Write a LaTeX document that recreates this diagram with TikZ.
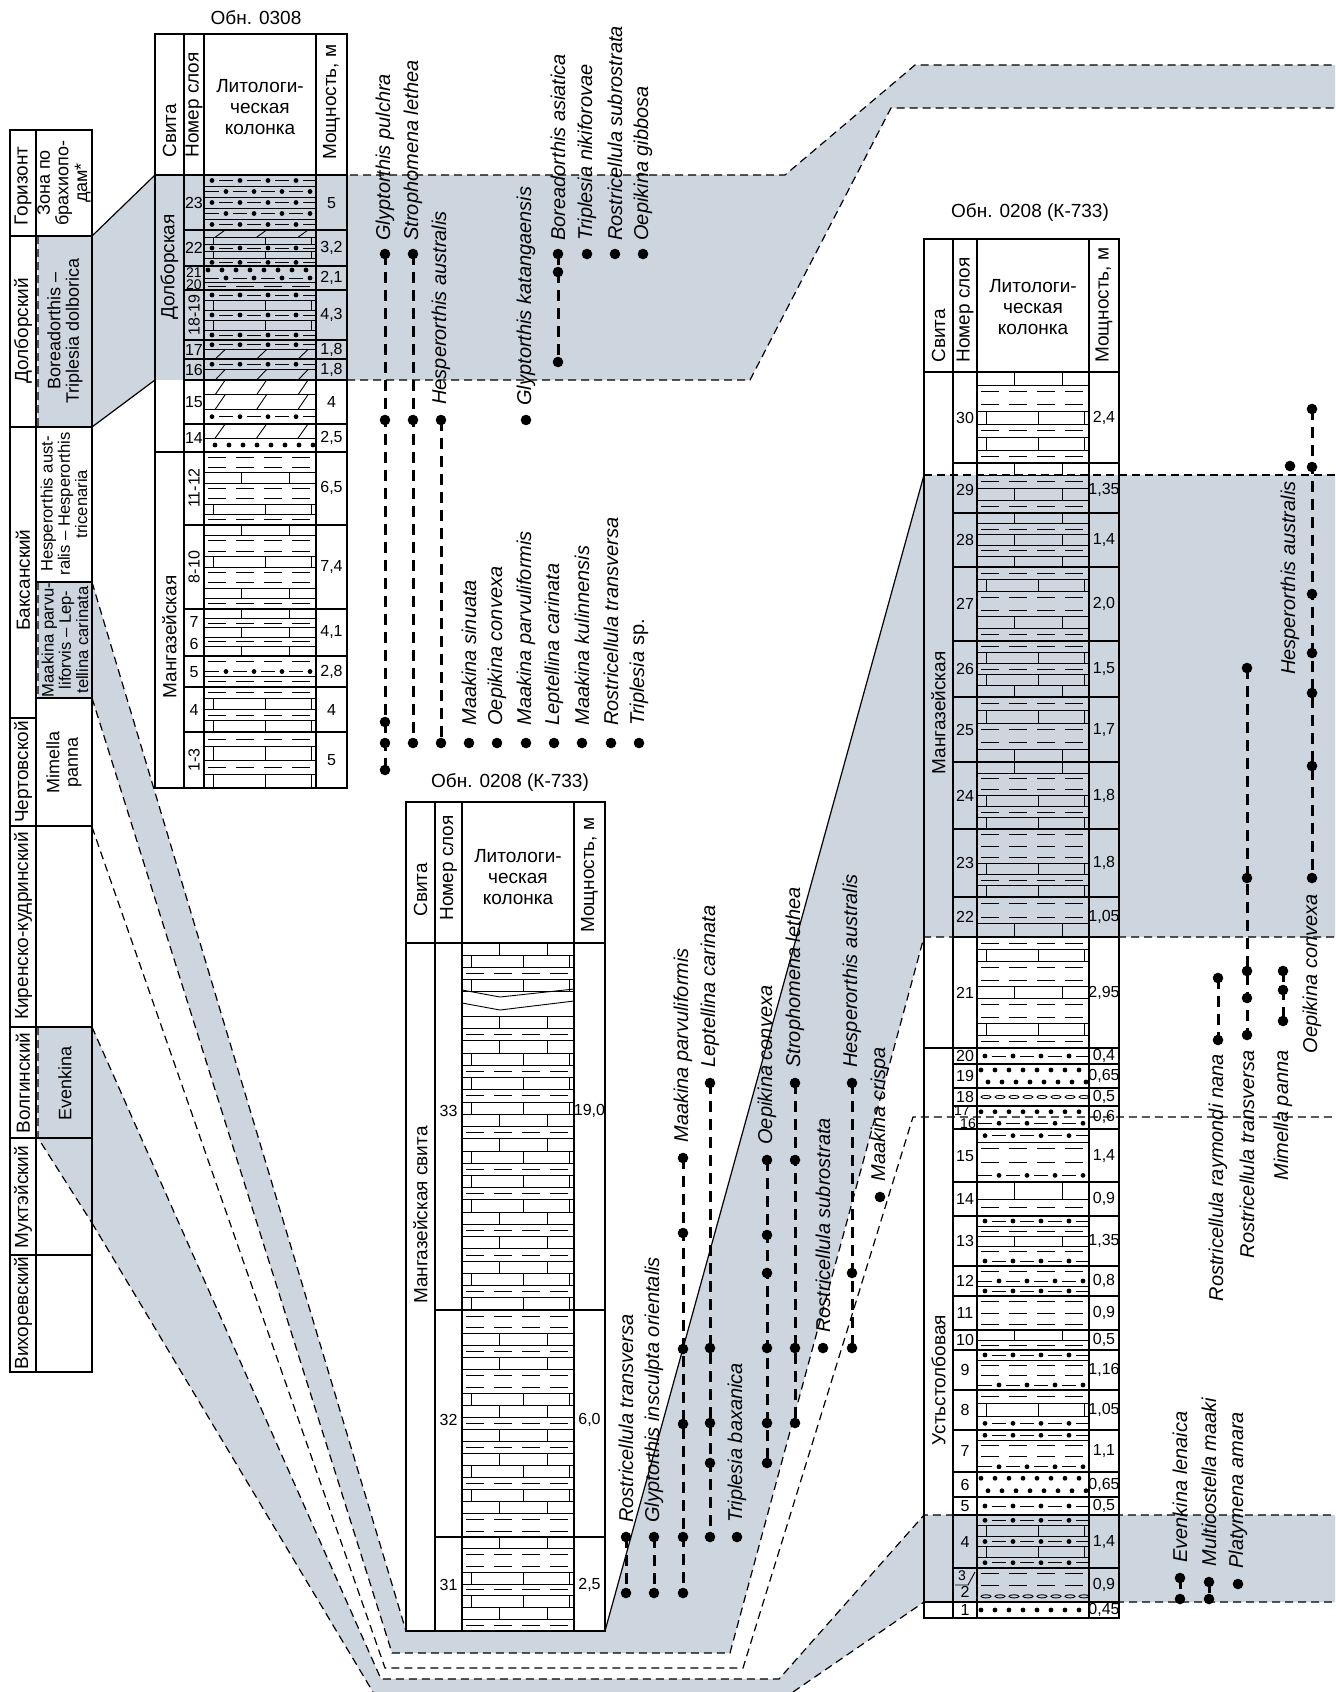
\documentclass[tikz,border=0pt]{standalone}
\usepackage{fontspec}
\setmainfont{Liberation Sans}
\definecolor{bandgray}{RGB}{205,213,223}

% lithology rows: 0 blank, 1 limestone, 2 clay, 3 silt, 4 sand, 5 dolomite, 6 lenses
\newcommand\lith[5]{%
  \begin{scope}
    \clip (#1,#3) rectangle (#2,#4);
    \foreach \lc [count=\i] in {#5} {\xdef\nrow{\i}}
    \pgfmathsetmacro\rh{(#4-#3)/\nrow}
    \pgfmathsetmacro\ww{#2-#1}
    \foreach \lc [count=\i] in {#5} {
      \pgfmathsetmacro\ya{#3+(\i-1)*\rh}
      \pgfmathsetmacro\yb{\ya+\rh}
      \pgfmathsetmacro\ym{\ya+\rh/2}
      \ifodd\i \def\sh{0}\else \def\sh{14}\fi
      \ifnum\lc=1
        \draw[litho] (#1,\ya) -- (#2,\ya) (#1,\yb) -- (#2,\yb);
        \ifodd\i
          \draw[litho] (#1+0.33*\ww,\ya) -- (#1+0.33*\ww,\yb)
                       (#1+0.76*\ww,\ya) -- (#1+0.76*\ww,\yb);
        \else
          \draw[litho] (#1+0.08*\ww,\ya) -- (#1+0.08*\ww,\yb)
                       (#1+0.55*\ww,\ya) -- (#1+0.55*\ww,\yb)
                       (#1+0.96*\ww,\ya) -- (#1+0.96*\ww,\yb);
        \fi
      \fi
      \ifnum\lc=2
        \draw[litho,dash pattern=on 9pt off 5pt,dash phase=\sh pt] (#1+4,\ym) -- (#2,\ym);
      \fi
      \ifnum\lc=3
        \draw[litho] (#1,\yb) -- (#2,\yb);
        \foreach \k in {-1,...,4} {
          \fill (#1+8+\k*28+\sh,\ym) circle (1.2pt);
          \draw[litho] (#1+15+\k*28+\sh,\ym) -- ++(14,0);
        }
      \fi
      \ifnum\lc=4
        \foreach \k in {0,...,8} {\fill (#1+4+\k*14+\sh/2,\ym) circle (1.2pt);}
      \fi
      \ifnum\lc=5
        \draw[litho] (#1,\yb) -- (#2,\yb);
        \foreach \f in {0.1,0.47,0.84} {\draw[litho] (#1+\f*\ww,\yb) -- ++(10,-\rh);}
      \fi
      \ifnum\lc=6
        \foreach \k in {0,...,7} {\draw[litho] (#1+9+\k*14,\ym) ellipse (2.5pt and 0.8pt);}
      \fi
    }
  \end{scope}%
}

% taxon: id, x, dot ys, label anchor, label y, name
\newcommand\taxon[6]{%
  \foreach \ty [count=\k] in {#3} {
    \node[taxdot] (#1-\k) at (#2,\ty) {};
    \xdef\ndot{\k}
  }
  \ifnum\ndot>1 \draw[taxrange] (#1-1.center) -- (#1-\ndot.center);\fi
  \node[taxlbl,anchor=#4] (#1-lbl) at (#2,#5) {#6};
}

\begin{document}
\begin{tikzpicture}[
        x=0.5pt, y=-0.5pt,
        frame/.style={line width=0.9pt},
        litho/.style={line width=0.45pt},
        bandedge/.style={line width=0.6pt, dash pattern=on 4pt off 2.5pt},
        taxrange/.style={line width=1.5pt, dash pattern=on 5.5pt off 3.5pt},
        taxdot/.style={circle, fill=black, inner sep=0pt, minimum size=5.3pt},
        taxlbl/.style={rotate=90, inner sep=0pt, font=\fontsize{10}{11}\selectfont\itshape},
        title/.style={font=\fontsize{9.5}{11}\selectfont, inner sep=0pt},
        hdr/.style={font=\fontsize{9.5}{10.5}\selectfont, align=center, inner sep=0pt},
        rhdr/.style={hdr, rotate=90, anchor=west},
        ltxt/.style={font=\fontsize{9.5}{10}\selectfont, rotate=90, align=center, inner sep=0pt},
        ztxt/.style={font=\fontsize{9}{9.3}\selectfont, rotate=90, align=center, inner sep=0pt},
        ztight/.style={font=\fontsize{8.3}{8.6}\selectfont, rotate=90, align=center, inner sep=0pt},
        num/.style={font=\fontsize{8}{8}\selectfont, inner sep=0pt},
        snum/.style={font=\fontsize{7}{7}\selectfont, inner sep=0pt}
    ]
    \useasboundingbox (0,0) rectangle (1335,1692);
    \fill[white] (0,0) rectangle (1335,1692);

    % correlation bands
    \fill[bandgray] (92,236) -- (155,175) -- (785,175) -- (915,65) -- (1335,65) -- (1335,108)
        -- (891,108) -- (750,380) -- (155,380) -- (92,427) -- cycle;
    \fill[bandgray] (92,582) -- (406,1631) -- (605,1631) -- (924,475) -- (1335,475) -- (1335,937)
        -- (924,937) -- (730,1653) -- (392,1653) -- (92,698) -- cycle;
    \fill[bandgray] (92,1027) -- (381,1679) -- (779,1679) -- (924,1515) -- (1335,1515) -- (1335,1602)
        -- (924,1602) -- (793,1692) -- (373,1692) -- (92,1223) -- cycle;

    % horizons and zones
    \fill[white] (10,130) rectangle (92,1372);
    \fill[bandgray] (38,236) rectangle (92,427) (38,582) rectangle (92,698) (38,1027) rectangle (92,1138);
    \fill[bandgray] (38,1138) -- (92,1138) -- (92,1223) -- cycle;
    \draw[bandedge] (38,236) -- (38,427) (38,582) -- (38,698) (38,1027) -- (38,1138) -- (92,1223);
    \draw[frame] (10,130) rectangle (92,1372) (36,130) -- (36,1372);
    \draw[frame] (10,236) -- (92,236) (10,427) -- (92,427) (36,582) -- (92,582) (36,698) -- (92,698)
        (10,718) -- (36,718) (10,826) -- (92,826) (10,1027) -- (92,1027) (10,1138) -- (92,1138)
        (10,1255) -- (92,1255);
    \node[ltxt] (hgor) at (23,186) {Горизонт};
    \node[ztxt] (hzon) at (64,183) {Зона по\\брахиопо-\\дам*};
    \node[ltxt] (hdol) at (23,331) {Долборский};
    \node[ztxt] (zbor) at (65,331) {Boreadorthis –\\Triplesia dolborica};
    \node[ltxt] (hbak) at (23,580) {Баксанский};
    \node[ztight] (zhes) at (64,504) {Hesperorthis aust-\\ralis – Hesperorthis\\tricenaria};
    \node[ztight] (zmaa) at (65,640) {Maakina parvu-\\liforvis – Lep-\\tellina carinata};
    \node[ltxt] (hche) at (23,772) {Чертовской};
    \node[ztxt] (zmim) at (64,762) {Mimella\\panna};
    \node[ltxt] (hkir) at (23,926) {Киренско-кудринский};
    \node[ltxt] (hvol) at (23,1083) {Волгинский};
    \node[ztxt] (zeve) at (65,1083) {Evenkina};
    \node[ltxt] (hmuk) at (23,1197) {Муктэйский};
    \node[ltxt] (hvih) at (23,1313) {Вихоревский};

    % section 0308
    \node[title] (t1) at (256,18) {Обн. 0308};
    \fill[white] (155,34) rectangle (347,788);
    \fill[bandgray] (155,175) rectangle (347,380);
    \lith{204}{316}{175}{230}{3,3,3,3,3}
    \lith{204}{316}{230}{266}{5,1,3,1,3}
    \lith{204}{316}{266}{290}{4,3,2}
    \lith{204}{316}{290}{340}{3,1,3,1,3}
    \lith{204}{316}{340}{359}{3,5}
    \lith{204}{316}{359}{380}{3,5}
    \lith{204}{316}{380}{424}{5,5,3}
    \lith{204}{316}{424}{452}{5,4}
    \lith{204}{316}{452}{525}{2,2,1,2,2,1,2}
    \lith{204}{316}{525}{609}{1,2,2,1,2,2,1,2}
    \lith{204}{316}{609}{656}{1,2,1,2,1}
    \lith{204}{316}{656}{687}{2,3,2}
    \lith{204}{316}{687}{732}{2,1,2,1}
    \lith{204}{316}{732}{788}{2,1,2,1}
    \draw[frame] (155,34) rectangle (347,788) (184,34) -- (184,788) (204,34) -- (204,788)
        (316,34) -- (316,788) (155,175) -- (347,175) (155,452) -- (347,452);
    \foreach \yy in {230,266,290,340,359,380,424,525,609,656,687,732}
        \draw[frame] (184,\yy) -- (347,\yy);
    \node[rhdr] (s1hsv) at (169.5,158) {Свита};
    \node[rhdr] (s1hnm) at (194,158) {Номер слоя};
    \node[hdr] (s1hlc) at (260,107) {Литологи-\\ческая\\колонка};
    \node[rhdr] (s1hth) at (331.5,160) {Мощность, м};
    \node[ltxt] (s1dol) at (169.5,267) {Долборская};
    \node[ltxt] (s1man) at (169.5,637) {Мангазейская};
    \foreach \nm/\yy in {23/203, 22/248, 17/350, 16/370, 15/402, 14/438, 7/622, 6/644, 5/672, 4/710}
        \node[num] (s1n\nm) at (194,\yy) {\nm};
    \node[snum] (s1n21) at (194,273) {21};
    \node[snum] (s1n20) at (194,285) {20};
    \foreach \nm/\yy in {18-19/315, 11-12/488, 8-10/567, 1-3/760}
        \node[num,rotate=90] (s1n\nm) at (194,\yy) {\nm};
    \foreach \yy/\tv in {203/5, 248/{3,2}, 278/{2,1}, 315/{4,3}, 350/{1,8}, 370/{1,8}, 402/4,
        438/{2,5}, 488/{6,5}, 567/{7,4}, 632/{4,1}, 672/{2,8}, 710/4, 760/5}
        \node[num] (s1t\yy) at (331.5,\yy) {\tv};

    % section 0208, middle
    \node[title] (t2) at (510,782) {Обн. 0208 (К-733)};
    \fill[white] (406,802) rectangle (605,1631);
    \lith{462}{574}{943}{1310}{1,1,2,1,0,0,1,2,1,1,2,1,2,1,1,2,1,1,2,1,2,1,1,2,1,2,1,1,2,1}
    \lith{462}{574}{1310}{1537}{2,2,1,2,1,2,2,1,1,2,1,2,1,1,2,1,1,2,2}
    \lith{462}{574}{1537}{1631}{1,2,2,1,2,1,1,2}
    \draw[litho] (462,990) -- (500,997) -- (574,989) (462,1003) -- (500,1010) -- (574,1001);
    \draw[frame] (406,802) rectangle (605,1631) (435,802) -- (435,1631) (462,802) -- (462,1631)
        (574,802) -- (574,1631) (406,943) -- (605,943) (435,1310) -- (605,1310) (435,1537) -- (605,1537);
    \node[rhdr] (s2hsv) at (420.5,917) {Свита};
    \node[rhdr] (s2hnm) at (448.5,921) {Номер слоя};
    \node[hdr] (s2hlc) at (518,877) {Литологи-\\ческая\\колонка};
    \node[rhdr] (s2hth) at (589.5,933) {Мощность, м};
    \node[ltxt] (s2man) at (420.5,1215) {Мангазейская свита};
    \foreach \nm/\yy/\tv in {33/1111/{19,0}, 32/1420/{6,0}, 31/1585/{2,5}} {
        \node[num] (s2n\nm) at (448.5,\yy) {\nm};
        \node[num] (s2t\nm) at (589.5,\yy) {\tv};
    }

    % section 0208, right
    \node[title] (t3) at (1030,212) {Обн. 0208 (К-733)};
    \fill[white] (924,239) rectangle (1119,1618);
    \fill[bandgray] (924,475) rectangle (1119,937) (924,1515) rectangle (1119,1602);
    \lith{977}{1089}{372}{463}{1,2,2,1,2,1,2}
    \lith{977}{1089}{463}{513}{1,2,1,2}
    \lith{977}{1089}{513}{567}{1,2,1,2,1}
    \lith{977}{1089}{567}{641}{2,1,2,2,1,2}
    \lith{977}{1089}{641}{697}{2,1,2,1,1}
    \lith{977}{1089}{697}{762}{2,1,2,2,1}
    \lith{977}{1089}{762}{829}{1,2,2,1,2,1}
    \lith{977}{1089}{829}{897}{2,2,2,1,2,1}
    \lith{977}{1089}{897}{937}{2,2,1}
    \lith{977}{1089}{937}{1048}{2,1,2,2,1,2,2,1,2}
    \lith{977}{1089}{1048}{1064}{3}
    \lith{977}{1089}{1064}{1088}{4,4}
    \lith{977}{1089}{1088}{1106}{6}
    \lith{977}{1089}{1106}{1129}{4,3}
    \lith{977}{1089}{1129}{1182}{3,2,2,3}
    \lith{977}{1089}{1182}{1216}{1,2}
    \lith{977}{1089}{1216}{1266}{3,2,1,2,3}
    \lith{977}{1089}{1266}{1296}{2,3,3}
    \lith{977}{1089}{1296}{1330}{2,2,2}
    \lith{977}{1089}{1330}{1350}{1,2}
    \lith{977}{1089}{1350}{1390}{3,2,2,3}
    \lith{977}{1089}{1390}{1430}{2,1,3}
    \lith{977}{1089}{1430}{1472}{3,2,2,3}
    \lith{977}{1089}{1472}{1497}{4,4}
    \lith{977}{1089}{1497}{1515}{3}
    \lith{977}{1089}{1515}{1568}{3,1,3,1,3}
    \lith{977}{1089}{1568}{1602}{2,2,6}
    \lith{977}{1089}{1602}{1618}{4}
    \draw[frame] (924,239) rectangle (1119,1618) (953,239) -- (953,1618) (977,239) -- (977,1618)
        (1089,239) -- (1089,1618) (924,372) -- (1119,372) (924,1048) -- (953,1048) (924,1602) -- (953,1602);
    \foreach \yy in {463,513,567,641,697,762,829,897,937,1048,1064,1088,1106,1129,1182,1216,
        1266,1296,1330,1350,1390,1430,1472,1497,1515,1568,1602}
        \draw[frame] (953,\yy) -- (1119,\yy);
    \node[rhdr] (s3hsv) at (938.5,363) {Свита};
    \node[rhdr] (s3hnm) at (965,363) {Номер слоя};
    \node[hdr] (s3hlc) at (1033,307) {Литологи-\\ческая\\колонка};
    \node[rhdr] (s3hth) at (1104,363) {Мощность, м};
    \node[ltxt] (s3man) at (938.5,713) {Мангазейская};
    \node[ltxt] (s3ust) at (938.5,1380) {Устьстолбовая};
    \foreach \nm/\yy/\tv in {30/418/{2,4}, 29/490/{1,35}, 28/540/{1,4}, 27/604/{2,0}, 26/669/{1,5},
        25/730/{1,7}, 24/796/{1,8}, 23/863/{1,8}, 22/917/{1,05}, 21/993/{2,95}, 20/1056/{0,4},
        19/1076/{0,65}, 18/1097/{0,5}, 15/1156/{1,4}, 14/1199/{0,9}, 13/1241/{1,35}, 12/1281/{0,8},
        11/1313/{0,9}, 10/1340/{0,5}, 9/1370/{1,16}, 8/1410/{1,05}, 7/1451/{1,1}, 6/1485/{0,65},
        5/1506/{0,5}, 4/1542/{1,4}, 1/1610/{0,45}} {
        \node[num] (s3n\nm) at (965,\yy) {\nm};
        \node[num] (s3t\nm) at (1104,\yy) {\tv};
    }
    \node[snum] (s3n17) at (962,1111) {17};
    \node[snum] (s3n16) at (968,1124) {16};
    \node[num] (s3t16) at (1104,1117) {0,6};
    \node[snum] (s3n3) at (962,1576) {3};
    \node[num] (s3n2) at (965,1592) {2};
    \node[num] (s3t2) at (1104,1585) {0,9};
    \draw[litho] (955,1585) -- (968,1585) -- (975,1572);

    % band edges
    \draw[line width=0.6pt] (92,236) -- (155,175) (92,427) -- (155,380) (605,1631) -- (924,475);
    \draw[bandedge] (155,175) -- (785,175) -- (915,65) -- (1335,65);
    \draw[bandedge] (347,380) -- (750,380) -- (891,108) -- (1335,108);
    \draw[bandedge] (92,582) -- (406,1631);
    \draw[bandedge] (924,475) -- (1335,475);
    \draw[bandedge] (92,698) -- (392,1653) -- (730,1653) -- (924,937) -- (1335,937);
    \draw[bandedge] (92,827) -- (385,1668) -- (743,1668) -- (913,1117) -- (1335,1117);
    \draw[bandedge] (92,1027) -- (381,1679) -- (779,1679) -- (924,1515) -- (1335,1515);
    \draw[bandedge] (92,1223) -- (373,1692);
    \draw[bandedge] (793,1692) -- (924,1602) -- (1335,1602);

    % taxa, section 0308
    \taxon{gpul}{385}{254,420,722,743,770}{west}{241}{Glyptorthis pulchra}
    \taxon{slet}{413}{254,420,743}{west}{241}{Strophomena lethea}
    \taxon{haus}{441}{420,743}{west}{405}{Hesperorthis australis}
    \taxon{gkat}{526}{420}{west}{406}{Glyptorthis katangaensis}
    \taxon{basi}{558}{254,272,362}{west}{241}{Boreadorthis asiatica}
    \taxon{tnik}{587}{254}{west}{241}{Triplesia nikiforovae}
    \taxon{rsub}{615}{254}{west}{241}{Rostricellula subrostrata}
    \taxon{ogib}{643}{254}{west}{241}{Oepikina gibbosa}
    \taxon{msin}{469}{743}{west}{726}{Maakina sinuata}
    \taxon{ocon}{497}{743}{west}{726}{Oepikina convexa}
    \taxon{mpar}{526}{743}{west}{726}{Maakina parvuliformis}
    \taxon{lcar}{554}{743}{west}{726}{Leptellina carinata}
    \taxon{mkul}{582}{743}{west}{726}{Maakina kulinnensis}
    \taxon{rtra}{611}{743}{west}{726}{Rostricellula transversa}
    \taxon{tsp}{639}{743}{west}{726}{Triplesia {\upshape sp.}}

    % taxa, middle section
    \taxon{m-rtra}{626}{1537,1593}{west}{1523}{Rostricellula transversa}
    \taxon{m-gins}{654}{1537,1593}{west}{1523}{Glyptorthis insculpta orientalis}
    \taxon{m-mpar}{683}{1158,1233,1349,1424,1537,1593}{west}{1143}{Maakina parvuliformis}
    \taxon{m-lcar}{710}{1083,1348,1423,1463,1537}{west}{1068}{Leptellina carinata}
    \taxon{m-tbax}{737}{1537}{west}{1523}{Triplesia baxanica}
    \taxon{m-ocon}{767}{1160,1235,1273,1348,1423,1463}{west}{1145}{Oepikina convexa}
    \taxon{m-slet}{795}{1083,1160,1348,1423}{west}{1068}{Strophomena lethea}
    \taxon{m-rsub}{823}{1348}{west}{1333}{Rostricellula subrostrata}
    \taxon{m-haus}{852}{1083,1273,1348}{west}{1068}{Hesperorthis australis}
    \taxon{m-mcri}{880}{1197}{west}{1182}{Maakina crispa}

    % taxa, right section
    \taxon{r-haus}{1290}{466}{east}{481}{Hesperorthis australis}
    \taxon{r-ocon}{1312}{409,467,594,653,693,766,878}{east}{894}{Oepikina convexa}
    \taxon{r-rray}{1218}{978,1040}{east}{1054}{Rostricellula raymondi nana}
    \taxon{r-rtra}{1247}{668,878,971,998,1035}{east}{1050}{Rostricellula transversa}
    \taxon{r-mpan}{1283}{971,990,1021}{east}{1050}{Mimella panna}
    \taxon{r-elen}{1180}{1578,1599}{west}{1563}{Evenkina lenaica}
    \taxon{r-mmaa}{1209}{1582,1599}{west}{1567}{Multicostella maaki}
    \taxon{r-pama}{1238}{1584}{west}{1569}{Platymena amara}
\end{tikzpicture}
\end{document}
